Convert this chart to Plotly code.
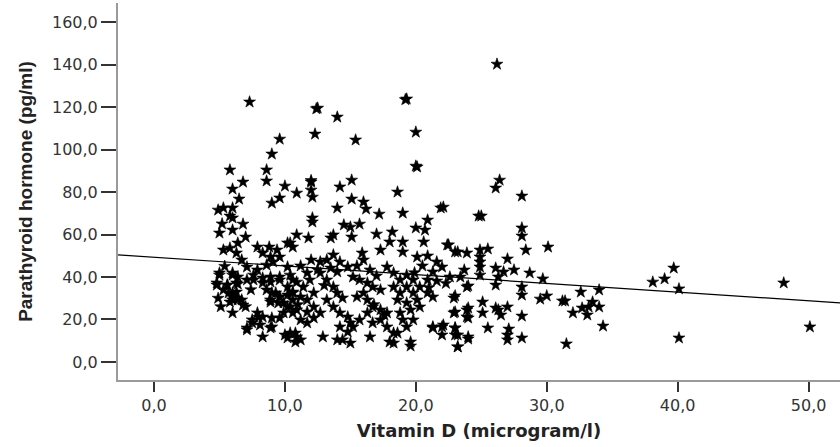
import plotly.graph_objects as go

# Vitamin D (microgram/l) and Parathyroid hormone (pg/ml) values
vitamin_d = [
    7.3, 12.5, 12.4, 14.0, 9.6, 12.3, 15.4, 9.0, 19.3, 19.2, 20.0, 20.0, 20.1, 26.2, 26.4, 26.1, 28.1,
    5.8, 8.6, 8.6, 6.8, 6.0, 6.5, 10.0, 10.9, 12.0, 12.0, 12.0, 12.1, 14.2, 15.1, 9.0, 9.6, 18.6,
    4.9, 5.3, 6.0, 5.8, 6.0, 6.8, 5.0, 6.0, 12.1, 12.1, 14.0, 15.1, 16.0, 16.2, 17.2, 19.0, 20.9,
    21.9, 22.1, 24.8, 14.5, 15.0, 15.7, 13.7, 13.5, 15.1, 17.0, 18.2, 18.0, 19.0, 20.6, 20.0, 20.7,
    7.0, 6.4, 7.9, 17.3, 19.0, 20.1, 20.9, 21.6, 22.4, 23.2, 23.9, 10.9, 11.8, 10.4, 8.8, 9.4, 9.6,
    8.3, 8.9, 9.1, 10.2, 10.6, 12.0, 12.7, 13.2, 13.7, 15.9, 16.0, 5.3, 5.8, 6.3, 6.7, 7.1, 14.2, 14.8,
    5.0, 6.0, 6.4, 7.1, 4.8, 5.6, 6.3, 5.3, 6.0, 6.3, 5.8, 6.7, 6.0, 7.5, 7.1, 8.1, 8.3, 9.0,
    7.6, 8.3, 8.9, 8.6, 9.3, 9.6, 10.2, 8.9, 9.5, 10.2, 10.6, 9.9, 10.6, 11.2, 11.7,
    9.6, 10.6, 11.4, 11.9, 12.2, 10.6, 11.2, 11.7, 12.2, 12.7, 11.7, 12.2,
    10.4, 10.9, 11.2, 10.2, 12.9, 14.0, 15.0, 14.4,
    12.7, 13.2, 13.7, 14.0, 14.4, 13.2, 13.7, 14.2, 14.8, 15.0, 15.2, 14.2, 14.8,
    15.2, 15.7, 16.3, 16.7, 17.3, 15.5, 16.0, 16.3, 16.7, 17.3, 17.8,
    15.7, 16.3, 16.7, 17.3, 17.8, 18.3, 16.5, 18.0, 19.6,
    17.8, 18.3, 18.8, 19.3, 19.8, 18.3, 18.8, 19.3, 19.8, 20.3, 20.9,
    18.6, 19.3, 20.1, 20.9, 21.3, 18.8, 19.6, 20.3, 19.8, 19.0, 19.3, 18.6, 18.3,
    21.3, 22.1, 23.0, 23.2, 24.0, 23.2, 22.9, 23.9, 23.9, 22.9, 23.9,
    22.5, 23.0, 24.9, 25.5, 28.4, 30.1, 24.9, 24.9, 24.9, 24.9, 26.1, 27.0, 27.5, 26.7, 26.3, 26.1,
    28.7, 29.7, 23.4, 24.0, 28.1, 28.1, 32.6, 34.0, 23.0, 29.5, 30.0, 31.2, 31.4, 33.5, 33.2, 32.7,
    34.0, 32.0, 33.1, 34.3, 28.1, 25.1, 25.1, 26.3, 27.0, 26.5, 26.1, 24.0, 24.0, 23.0, 23.0, 21.3,
    22.0, 22.0, 23.0, 24.0, 25.5, 27.1, 27.0, 27.0, 28.1, 19.6, 23.2, 31.5, 39.7, 38.1, 39.0, 40.1,
    40.1, 48.1, 50.1, 28.1, 28.1, 25.0,
    5.0, 6.0, 4.8, 5.6, 6.4, 5.7, 6.0, 6.3, 6.0, 6.4, 6.8, 7.6, 8.3, 8.9, 9.6, 10.4, 10.9, 9.0,
    9.6, 10.2, 10.6, 8.9, 9.9, 10.4, 10.9, 7.9, 8.3, 9.0, 9.6, 7.5, 7.1, 8.9, 10.0, 10.8, 10.8,
    10.2, 11.2, 8.6, 7.9, 11.7, 12.5, 14.0, 15.5, 16.5, 17.0, 13.5, 21.3, 22.0, 22.6, 20.5, 23.7, 21.6,
    4.9, 5.1, 5.4, 5.2, 7.0, 7.4, 8.0, 11.0, 13.0, 16.8, 17.6, 19.9, 21.0, 22.3,
]
pth = [
    122.4, 119.5, 119.2, 115.3, 104.9, 107.3, 104.5, 97.9, 123.8, 123.5, 108.2, 92.2, 91.8, 140.2, 85.6, 81.9, 78.1,
    90.4, 90.4, 85.2, 84.7, 81.4, 76.7, 82.8, 79.5, 84.7, 85.4, 80.9, 77.6, 82.4, 85.6, 74.8, 77.2, 80.0,
    71.5, 72.5, 72.5, 68.7, 67.8, 64.9, 60.7, 62.1, 67.8, 65.9, 72.5, 76.7, 75.3, 72.0, 69.6, 70.1, 66.8,
    72.5, 72.9, 68.7, 64.5, 63.5, 64.9, 59.8, 58.4, 58.8, 60.2, 61.2, 56.5, 56.5, 56.5, 63.1, 62.1,
    58.8, 56.0, 54.1, 52.7, 51.8, 49.4, 49.9, 47.1, 55.1, 51.8, 51.3, 59.8, 58.4, 56.0, 54.1, 52.7, 49.4,
    51.3, 49.4, 47.1, 56.0, 54.1, 48.0, 47.1, 48.0, 50.4, 51.3, 48.0, 52.7, 53.6, 51.3, 48.0, 44.7, 47.1, 44.7,
    41.9, 41.9, 40.0, 38.6, 37.2, 36.2, 37.2, 33.9, 32.5, 30.1, 28.2, 29.2, 23.1, 19.8, 16.0, 17.4, 11.8, 16.5,
    38.6, 39.5, 37.6, 33.9, 32.5, 30.6, 35.3, 29.2, 27.8, 25.9, 29.2, 23.1, 23.1, 19.8, 18.4,
    40.0, 38.6, 35.3, 38.6, 32.5, 32.5, 30.6, 29.2, 25.9, 23.1, 23.5, 20.7,
    13.6, 11.8, 10.4, 11.3, 11.8, 10.4, 8.9, 10.4,
    41.9, 38.6, 35.3, 32.5, 30.1, 29.2, 25.9, 23.1, 21.2, 18.4, 16.5, 16.5, 14.1,
    40.0, 38.6, 37.2, 35.3, 33.9, 30.6, 32.5, 29.2, 25.9, 24.5, 23.1,
    19.8, 23.1, 18.4, 19.8, 16.5, 13.6, 11.8, 9.4, 9.4,
    44.7, 41.9, 38.6, 40.9, 38.6, 35.3, 32.5, 35.3, 32.5, 35.3, 38.6,
    29.2, 27.8, 29.2, 32.5, 30.6, 23.1, 24.5, 25.9, 19.8, 19.8, 16.5, 13.6, 8.9,
    16.5, 17.4, 16.0, 12.7, 11.8, 7.1, 23.1, 24.5, 21.2, 30.1, 35.3,
    55.1, 51.8, 52.7, 53.2, 52.7, 54.1, 49.4, 47.1, 44.7, 40.9, 44.2, 48.5, 43.3, 42.4, 40.0, 36.2,
    41.9, 39.1, 40.0, 35.8, 35.3, 31.5, 32.9, 33.9, 31.1, 29.6, 31.1, 28.7, 28.7, 28.2, 25.9, 25.4,
    25.9, 23.1, 22.1, 16.9, 21.6, 28.2, 23.1, 24.5, 25.9, 22.1, 25.4, 25.4, 20.7, 23.5, 16.0, 16.0,
    16.5, 12.7, 12.7, 10.8, 16.0, 15.5, 12.7, 10.4, 11.3, 7.5, 7.1, 8.5, 44.2, 37.6, 39.1, 34.4,
    11.3, 37.2, 16.5, 63.1, 59.3, 68.7,
    40.9, 40.9, 36.2, 36.2, 36.7, 32.5, 30.6, 32.9, 29.2, 29.2, 26.8, 40.9, 37.2, 40.0, 38.6, 40.9, 37.6, 32.5,
    30.6, 31.5, 32.9, 28.2, 27.8, 25.9, 24.5, 23.1, 21.2, 20.7, 20.7, 18.4, 15.1, 16.0, 12.7, 13.6, 9.4,
    44.7, 45.2, 45.6, 43.3, 41.9, 43.3, 42.4, 45.2, 43.3, 40.5, 44.2, 42.4, 44.7, 40.0, 45.2, 43.3, 38.1,
    30.0, 26.0, 45.0, 65.0, 26.0, 34.0, 21.0, 27.0, 36.0, 27.0, 22.0, 42.0, 35.0, 37.0,
]

# Fitted regression line
fit_intercept = 49.3
fit_slope = -0.41

x_ticks = [0, 10, 20, 30, 40, 50]
x_tick_labels = ["0,0", "10,0", "20,0", "30,0", "40,0", "50,0"]
y_ticks = [0, 20, 40, 60, 80, 100, 120, 140, 160]
y_tick_labels = ["0,0", "20,0", "40,0", "60,0", "80,0", "100,0", "120,0", "140,0", "160,0"]

x_range = [-2.75, 52.4]
y_range = [-8.5, 169]

n = min(len(vitamin_d), len(pth))
fig = go.Figure()
fig.add_trace(go.Scatter(
    x=vitamin_d[:n], y=pth[:n], mode="markers",
    marker=dict(symbol="star", size=9, color="black", line=dict(width=0.6, color="black")),
    showlegend=False, cliponaxis=False,
))
fig.add_trace(go.Scatter(
    x=x_range, y=[fit_intercept + fit_slope * v for v in x_range], mode="lines",
    line=dict(color="black", width=1.2), showlegend=False,
))

fig.update_layout(
    width=840, height=447,
    margin=dict(l=118, r=0, t=3, b=67),
    paper_bgcolor="white", plot_bgcolor="white",
    font=dict(family="DejaVu Sans, Liberation Sans, Arial", color="#222"),
)
fig.update_xaxes(
    automargin=False,
    range=x_range, tickvals=x_ticks, ticktext=x_tick_labels,
    showgrid=False, zeroline=False, showline=True, linecolor="#9a9a9a", linewidth=2,
    ticks="outside", ticklen=10, tickwidth=2, tickcolor="#333",
    tickfont=dict(size=16, color="#333"),
    title=dict(text="<b>Vitamin D (microgram/l)</b>", standoff=10,
               font=dict(size=18, family="DejaVu Sans, Liberation Sans", color="#222")),
)
fig.update_yaxes(
    automargin=False,
    range=y_range, tickvals=y_ticks, ticktext=y_tick_labels,
    showgrid=False, zeroline=False, showline=True, linecolor="#9a9a9a", linewidth=2,
    ticks="outside", ticklen=15, tickwidth=1.5, tickcolor="#333",
    tickfont=dict(size=16, color="#333"),
    title=dict(text="<b>Parathyroid hormone (pg/ml)</b>", standoff=14,
               font=dict(size=19, family="Liberation Sans Narrow, Arial Narrow, Liberation Sans", color="#222")),
)

fig.write_html(
    "out.html",
    config={"displayModeBar": False},
    post_script="document.body.style.margin='0';document.body.style.overflow='hidden';",
)
